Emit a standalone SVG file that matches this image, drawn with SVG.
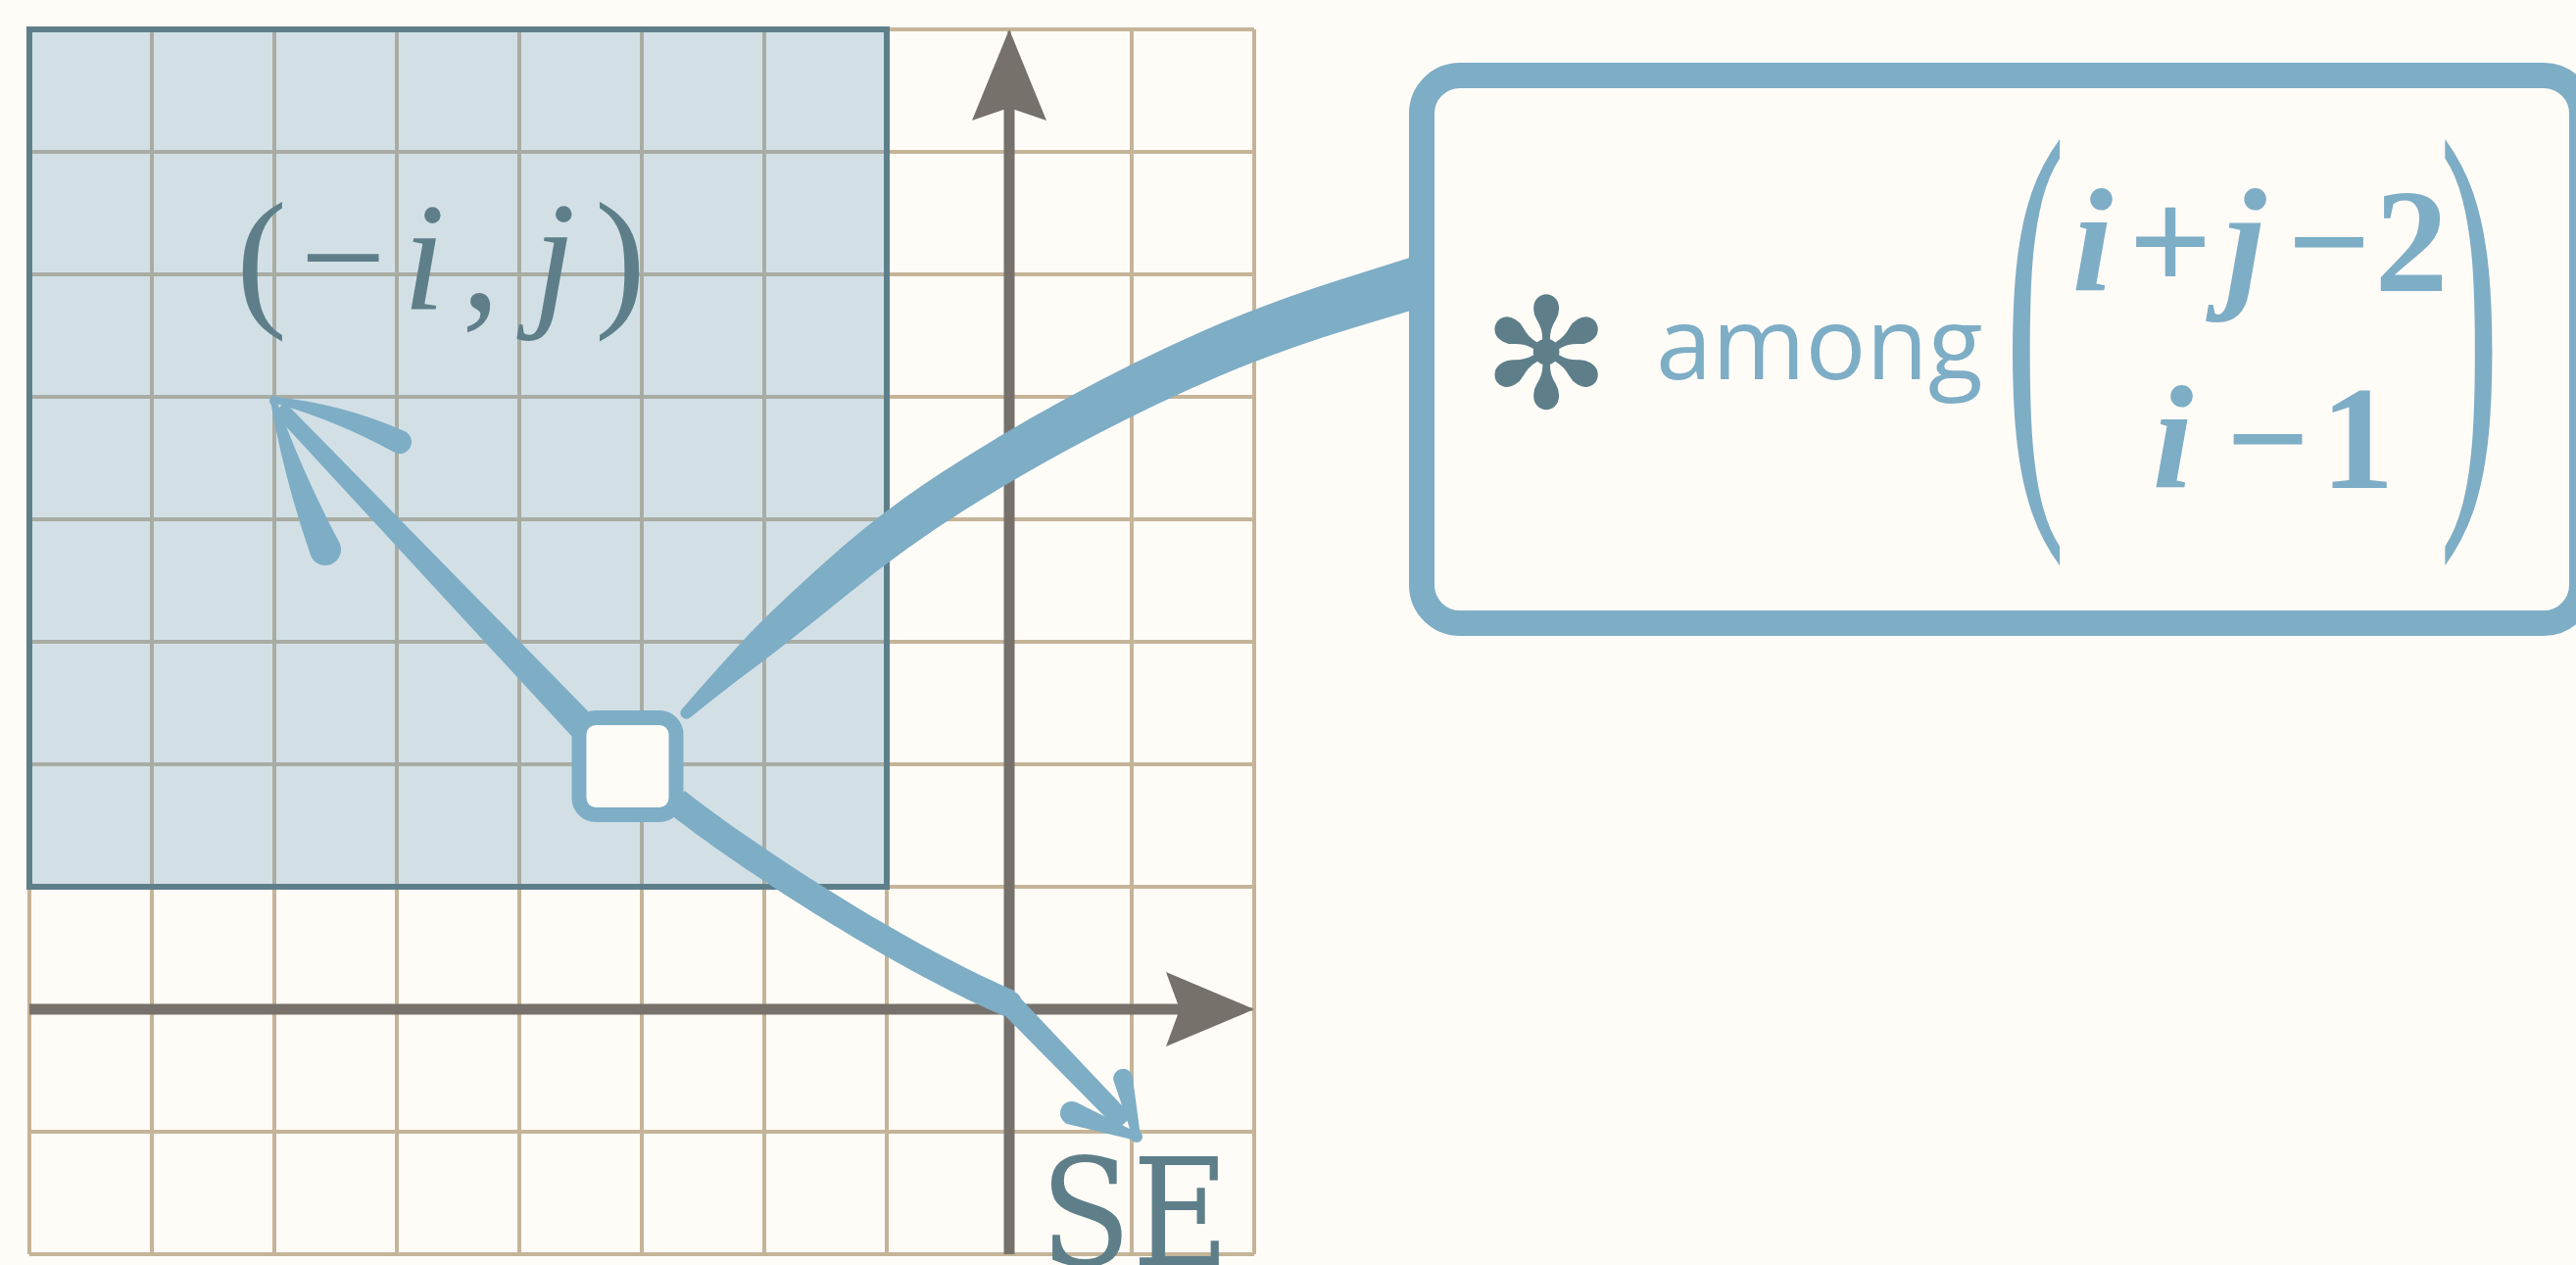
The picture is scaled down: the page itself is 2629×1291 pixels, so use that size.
<svg xmlns="http://www.w3.org/2000/svg" width="2629" height="1291" viewBox="0 0 2629 1291">
<style>
.grid{stroke:#c5b498;stroke-width:4;fill:none}
.axis{stroke:#76716b;stroke-width:11;fill:none}
.ahead{fill:#76716b}
.blue{fill:#7eadc6}
.slate{fill:#5e7f8a}
.serif{font-family:"Liberation Serif","Times New Roman",serif}
</style>
<rect x="0" y="0" width="2629" height="1291" fill="#fffcf7"/>
<g id="grid">
<path class="grid" d="M30 30V1280M155 30V1280M280 30V1280M405 30V1280M530 30V1280M655 30V1280M780 30V1280M905 30V1280M1030 30V1280M1155 30V1280M1280 30V1280M30 30H1280M30 155H1280M30 280H1280M30 405H1280M30 530H1280M30 655H1280M30 780H1280M30 905H1280M30 1030H1280M30 1155H1280M30 1280H1280"/>
</g>
<g id="region">
<rect x="30" y="30" width="875" height="875" fill="#649bbc" fill-opacity="0.29" stroke="#5e7f8a" stroke-width="6"/>
</g>
<g id="axes">
<path class="axis" d="M30 1030H1210M1030 1280V100"/>
<path class="ahead" d="M1280 1030L1190 992L1204 1030L1190 1068Z"/>
<path class="ahead" d="M1030 30L992 123L1030 110L1068 123Z"/>
</g>
<g id="connectors">
<path class="blue" d="M695.9,723.7 L714.2,702.8 Q732.5,681.9 757.9,654.2 Q783.2,626.4 841.1,574.4 Q898.9,522.3 961.7,481.7 Q1024.4,441.1 1091.5,404.8 Q1158.5,368.4 1224.9,339 Q1291.3,309.6 1364.3,286.4 L1456,257.5 L1458,311.5 L1380.7,334.7 Q1308.7,356.5 1244.1,384 Q1179.5,411.6 1113.6,446.3 Q1047.6,480.9 986.4,519.3 Q925.1,557.7 866,605.7 Q806.8,653.6 777.2,675.9 Q747.5,698.1 725.8,715.3 L704.1,732.4 A6 6 0 0 1 695.9,723.7 Z"/>
<path class="blue" d="M608.9,734.7 L290.8,410.5 L279.2,421.5 L587.1,755.3 Z"/>
<path class="blue" d="M279.5,405 Q347.8,411.5 413.3,440.2 A12 12 0 0 1 402.7,461.8 Q342.2,428.5 278.5,411 Z"/>
<path class="blue" d="M281.9,408.2 Q309.2,483.7 346.7,554.6 A16 16 0 0 1 317.3,567.4 Q290.4,490.3 276.1,409.8 Z"/>
<circle class="blue" cx="280" cy="409" r="5"/>
<path class="blue" d="M698.7,806.9 C785.7,874.9 934.5,968.1 1035.5,1011.1 L1024.5,1036.9 C923.5,993.9 768.3,897.1 681.3,829.1 Z"/>
<circle class="blue" cx="1030" cy="1024" r="13"/>
<path class="blue" d="M1038.6,1015.7 L1155.2,1139.1 L1140.8,1152.9 L1021.4,1032.3 Z"/>
<path class="blue" d="M1156.1,1160.9 L1136.3,1102.3 A10 10 0 0 1 1155.7,1097.7 L1163.9,1159.1 Z"/>
<path class="blue" d="M1158.6,1163.8 L1089.9,1147.3 A12 12 0 0 1 1098.1,1124.7 L1161.4,1156.2 Z"/>
<circle class="blue" cx="1160" cy="1160" r="6"/>
</g>
<g id="node-small">
<rect x="591" y="732.5" width="99" height="99" rx="17" fill="#fffcf7" stroke="#7eadc6" stroke-width="15"/>
</g>
<g id="node-box">
<rect x="1451" y="77" width="1184" height="559" rx="39" fill="#fffcf7" stroke="#7eadc6" stroke-width="26"/>
<text x="1578" y="416" font-family="DejaVu Sans, sans-serif" font-size="156" text-anchor="middle" class="slate">✻</text>
<text x="1690" y="387" font-family="'Open Sans', 'Noto Sans', sans-serif" font-size="103" class="blue">among</text>
<text class="serif blue" font-size="480" text-anchor="middle" transform="translate(2077,475) scale(0.39,1)" x="0" y="0">(</text>
<text class="serif blue" font-size="480" text-anchor="middle" transform="translate(2520.5,475) scale(0.39,1)" x="0" y="0">)</text>
<text class="serif blue" font-size="150" font-weight="bold" text-anchor="middle" y="297"><tspan x="2135.5" font-style="italic">i</tspan><tspan x="2215">+</tspan><tspan x="2291.5" font-style="italic">j</tspan><tspan x="2377">−</tspan><tspan x="2461">2</tspan></text>
<text class="serif blue" font-size="150" font-weight="bold" text-anchor="middle" y="498"><tspan x="2217.5" font-style="italic">i</tspan><tspan x="2314.5">−</tspan><tspan x="2406">1</tspan></text>
</g>
<g id="label-neg">
<text class="serif slate" font-size="156" y="315"><tspan x="241">(</tspan><tspan x="306">−</tspan><tspan x="411" font-style="italic">i</tspan><tspan x="471">,</tspan><tspan x="544" font-style="italic">j</tspan><tspan x="607">)</tspan></text>
</g>
<g id="label-se">
<text font-family="'DejaVu Serif Condensed', 'DejaVu Serif', serif" font-size="151" text-anchor="middle" y="1291" class="slate"><tspan x="1108">S</tspan><tspan x="1205">E</tspan></text>
</g>
</svg>
